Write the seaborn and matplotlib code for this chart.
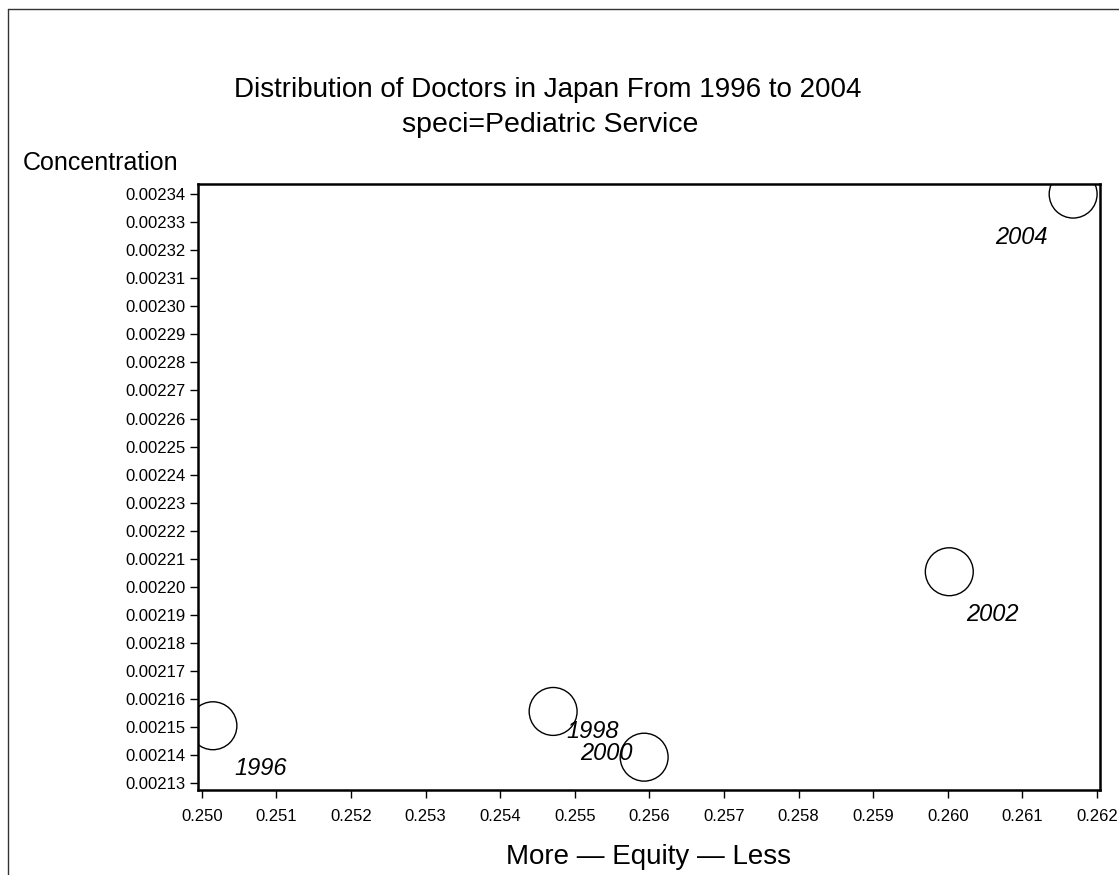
import matplotlib
matplotlib.use("Agg")
import matplotlib.pyplot as plt
import matplotlib.ticker as mticker
from matplotlib.lines import Line2D
import pandas as pd
import seaborn as sns

# values
years = ["1996", "1998", "2000", "2002", "2004"]
equity = [0.25015, 0.25471, 0.25593, 0.26002, 0.26168]
concentration = [0.0021505, 0.0021556, 0.0021393, 0.0022054, 0.0023400]

x_ticks = [0.250 + 0.001 * i for i in range(13)]
y_ticks = [0.00213 + 0.00001 * i for i in range(22)]

df = pd.DataFrame({"year": years, "equity": equity, "concentration": concentration})

sns.set_theme(style="white")
plt.rcParams["font.family"] = ["Liberation Sans", "DejaVu Sans"]
plt.rcParams["text.color"] = "black"

fig = plt.figure(figsize=(11.19, 8.75), dpi=100)
ax = fig.add_axes([198 / 1119, 1 - 790 / 875, (1100 - 198) / 1119, (790 - 184) / 875])

sns.scatterplot(
    data=df, x="equity", y="concentration",
    s=1190, facecolor="none", edgecolor="black", linewidth=1.0,
    ax=ax, legend=False,
)
for coll in ax.collections:
    coll.set_clip_on(True)
    coll.set_clip_path(ax.patch)

# label offsets (points) so years sit where the original put them
offsets = {
    "1996": (15.8, -31, "left"),
    "1998": (9.4, -14.4, "left"),
    "2000": (-8.6, 2.9, "right"),
    "2002": (12.2, -31, "left"),
    "2004": (-18.7, -31, "right"),
}
for _, row in df.iterrows():
    dx, dy, ha = offsets[row["year"]]
    ax.annotate(row["year"], (row["equity"], row["concentration"]),
                xytext=(dx, dy), textcoords="offset points",
                ha=ha, va="center", fontsize=17, fontstyle="italic",
                color="black")

ax.set_xlim(0.24995, 0.26204)
ax.set_ylim(0.0021276, 0.0023436)
ax.set_xticks(x_ticks)
ax.set_yticks(y_ticks)
ax.xaxis.set_major_formatter(mticker.FormatStrFormatter("%.3f"))
ax.yaxis.set_major_formatter(mticker.FormatStrFormatter("%.5f"))
ax.tick_params(axis="both", direction="out", length=6, width=1,
               color="black", labelsize=12, labelcolor="black",
               bottom=True, left=True, top=False, right=False)
ax.tick_params(axis="x", pad=8)
ax.tick_params(axis="y", pad=3)
ax.set_xlabel("")
ax.set_ylabel("")
for sp in ax.spines.values():
    sp.set_visible(True)
    sp.set_color("black")
    sp.set_linewidth(1.8)

fig.text(548 / 1119, 1 - 90 / 875, "Distribution of Doctors in Japan From 1996 to 2004",
         ha="center", va="center", fontsize=20, color="black")
fig.text(550 / 1119, 1 - 125 / 875, "speci=Pediatric Service",
         ha="center", va="center", fontsize=20.5, color="black")
fig.text(23 / 1119, 1 - 163 / 875, "Concentration",
         ha="left", va="center", fontsize=18, color="black")
fig.text(649 / 1119, 1 - 857 / 875, "More \u2014 Equity \u2014 Less",
         ha="center", va="center", fontsize=20, color="black")

# outer frame lines (top and left)
fig.add_artist(Line2D([8 / 1119, 1], [1 - 9 / 875, 1 - 9 / 875],
                      transform=fig.transFigure, color="#333333", lw=1))
fig.add_artist(Line2D([8 / 1119, 8 / 1119], [0, 1 - 9 / 875],
                      transform=fig.transFigure, color="#333333", lw=1))

fig.savefig("out.png", dpi=100, facecolor="white")
